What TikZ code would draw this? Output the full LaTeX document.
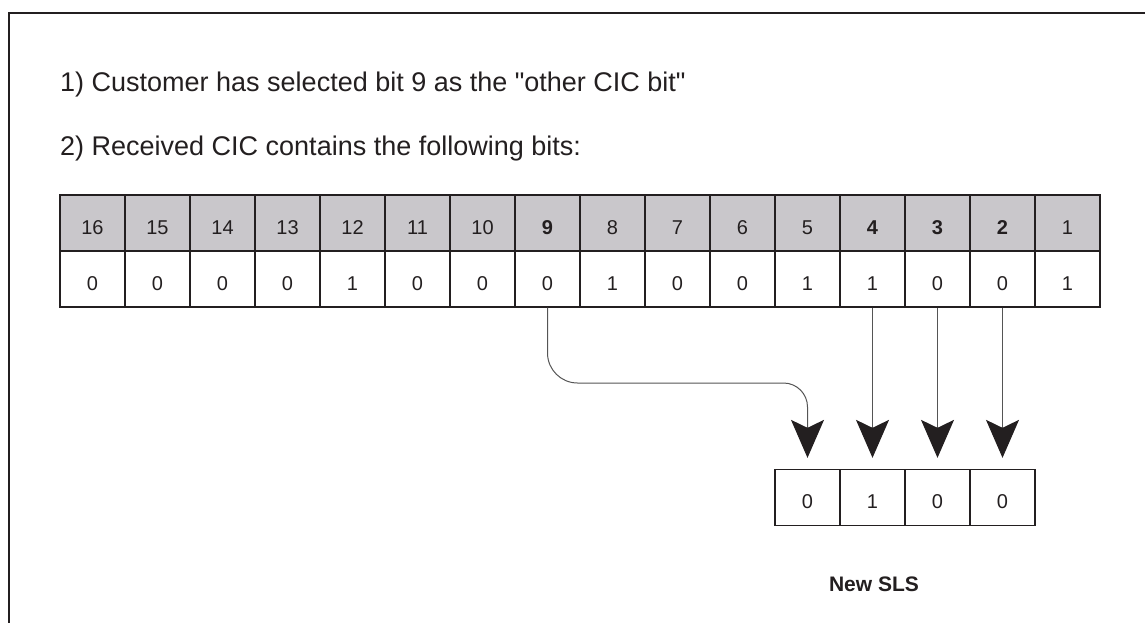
\documentclass[tikz,border=0pt]{standalone}
\usepackage{fontspec}
\setmainfont{Liberation Sans}
\usetikzlibrary{arrows.meta}
\definecolor{ink}{HTML}{231F20}
\definecolor{hdr}{HTML}{C9C7CB}
\definecolor{wire}{HTML}{555555}
\tikzset{
  cell/.style={draw=ink, line width=1.3pt, minimum width=65pt, minimum height=56pt,
    inner sep=0pt, text height=22pt, text depth=0pt, font=\fontsize{20}{24}\selectfont, text=ink},
  hcell/.style={cell, fill=hdr},
  bitarrow/.style={draw=wire, line width=1pt,
    -{Stealth[length=38pt, width=33pt, inset=8pt, fill=ink, color=ink]}, shorten >=11pt},
  note/.style={font=\fontsize{27}{32}\selectfont, text=ink, inner sep=0pt, anchor=base west}
}
\begin{document}
\begin{tikzpicture}[x=1pt,y=-1pt]
\useasboundingbox (0,0) rectangle (1145,623);
\draw[ink, line width=2pt] (9,13) rectangle (1170,650);
\node[note] (t1) at (60,92) {1) Customer has selected bit 9 as the \textquotedbl other CIC bit\textquotedbl};
\node[note] (t2) at (60,155) {2) Received CIC contains the following bits:};
% table
\foreach \b/\v [count=\i from 0] in {16/0,15/0,14/0,13/0,12/1,11/0,10/0,9/0,8/1,7/0,6/0,5/1,4/1,3/0,2/0,1/1}{
  \pgfmathsetmacro{\cx}{92.5+65*\i}
  \ifnum\b=9 \def\lab{\textbf{9}}\else\ifnum\b=4 \def\lab{\textbf{4}}\else\ifnum\b=3 \def\lab{\textbf{3}}\else\ifnum\b=2 \def\lab{\textbf{2}}\else\def\lab{\b}\fi\fi\fi\fi
  \node[hcell] (h\b) at (\cx,223) {\lab};
  \node[cell] (v\b) at (\cx,279) {\v};
}
% new SLS boxes
\foreach \v [count=\i from 1] in {0,1,0,0}{
  \pgfmathsetmacro{\cx}{742.5+65*\i}
  \node[cell] (s\i) at (\cx,497.5) {\v};
}
\node[font=\bfseries\fontsize{21}{25}\selectfont, text=ink, inner sep=0pt, anchor=base] (sls) at (874,591) {New SLS};
% arrows
\coordinate (k1) at (v9.south |- 0,383);
\coordinate (k2) at (s1.north |- 0,383);
\draw[bitarrow, rounded corners=30pt] (v9.south) -- (k1) [rounded corners=24pt] -- (k2) -- (s1.north);
\draw[bitarrow] (v4.south) -- (s2.north);
\draw[bitarrow] (v3.south) -- (s3.north);
\draw[bitarrow] (v2.south) -- (s4.north);
\end{tikzpicture}
\end{document}
